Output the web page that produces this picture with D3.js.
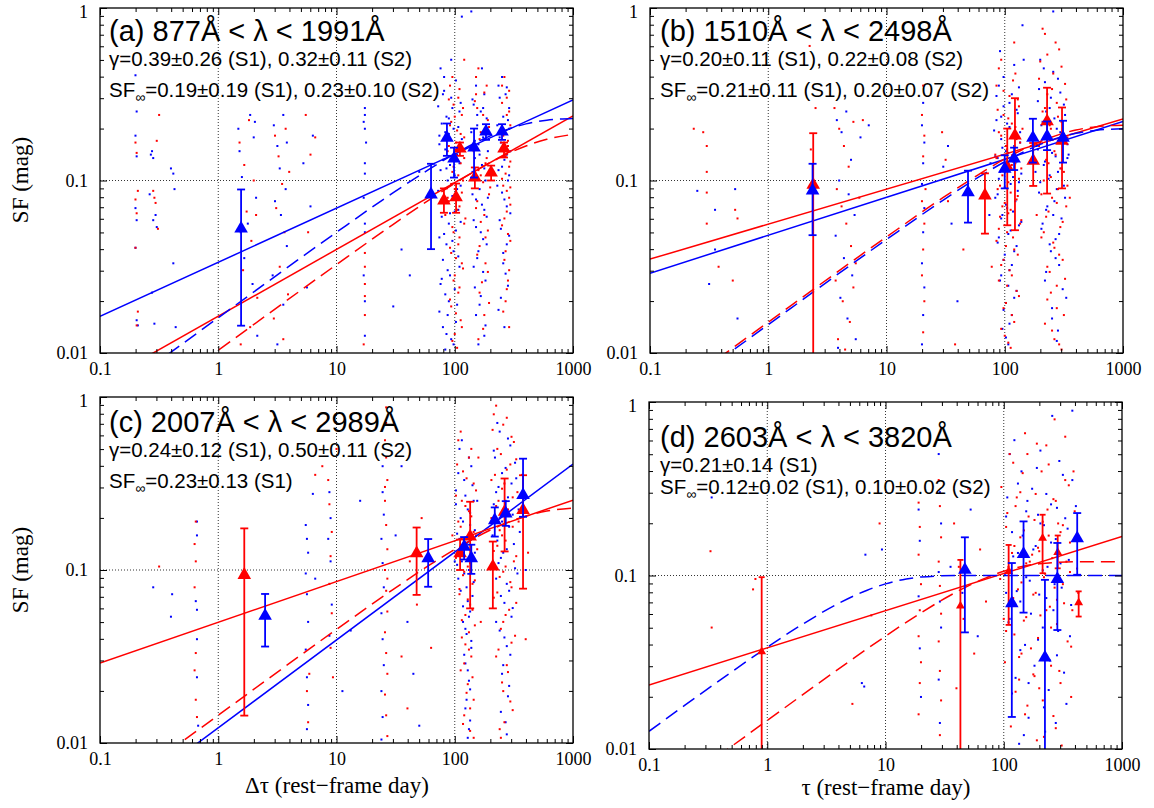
<!DOCTYPE html>
<html lang="en">
<head>
<meta charset="utf-8">
<title>Structure function panels</title>
<script src="https://d3js.org/d3.v7.min.js"></script>
<style>
  * { margin: 0; padding: 0; }
  body { background: #fff; }
  .tick-label { font-family: "Liberation Serif", serif; font-size: 18px; fill: #000; }
  .axtitle { font-family: "Liberation Serif", serif; font-size: 23px; fill: #000; }
  .title { font-family: "Liberation Sans", sans-serif; font-size: 29px; fill: #000; }
  .sub { font-family: "Liberation Sans", sans-serif; font-size: 20.5px; fill: #000; }
</style>
</head>
<body>
<svg id="chart" width="1154" height="808"></svg>
<script>
// ---- axes ----
const xTicks = [0.1, 1, 10, 100, 1000];
const xTickLabels = ["0.1", "1", "10", "100", "1000"];
const yTicks = [0.01, 0.1, 1];
const yTickLabels = ["0.01", "0.1", "1"];
const gridX = [1, 10, 100];
const gridY = [0.1];

// ---- panel texts ----
const panelTags = ["(a)", "(b)", "(c)", "(d)"];
const waveRanges = ["877Å < λ < 1991Å", "1510Å < λ < 2498Å", "2007Å < λ < 2989Å", "2603Å < λ < 3820Å"];
const gammaTexts = ["γ=0.39±0.26 (S1), 0.32±0.11 (S2)", "γ=0.20±0.11 (S1), 0.22±0.08 (S2)",
                    "γ=0.24±0.12 (S1), 0.50±0.11 (S2)", "γ=0.21±0.14 (S1)"];
const sfInfTexts = ["=0.19±0.19 (S1), 0.23±0.10 (S2)", "=0.21±0.11 (S1), 0.20±0.07 (S2)",
                    "=0.23±0.13 (S1)", "=0.12±0.02 (S1), 0.10±0.02 (S2)"];

// ---- binned SF points: [tau, SF, low, high] ----
const aRedTri = [[81,0.0766,0.065,0.09],[102.6,0.0798,0.065,0.096],[110.6,0.153,0.139,0.166],[148,0.104,0.09,0.119],[203,0.111,0.1,0.122],[261,0.153,0.136,0.166]];
const aBlueTri = [[1.56,0.0526,0.0144,0.0887],[63,0.083,0.04,0.125],[85.9,0.177,0.139,0.214],[98.6,0.134,0.104,0.155],[145.6,0.155,0.104,0.2],[183.7,0.192,0.172,0.212],[251,0.192,0.172,0.212]];
const bRedTri = [[2.4,0.0944,0.005,0.188],[68,0.0819,0.0492,0.110],[105,0.12,0.055,0.2],[122,0.182,0.0515,0.30],[174,0.13,0.093,0.165],[228,0.22,0.084,0.345],[305,0.17,0.09,0.265]];
const bBlueTri = [[2.37,0.0875,0.0482,0.125],[48.9,0.0853,0.057,0.114],[100,0.117,0.09,0.14],[120,0.134,0.115,0.155],[173,0.177,0.127,0.228],[228,0.18,0.15,0.22],[311,0.177,0.127,0.222]];
const cRedTri = [[1.66,0.0936,0.0144,0.174],[47.6,0.125,0.0718,0.176],[111,0.125,0.1,0.15],[135,0.156,0.06,0.248],[210,0.1045,0.06,0.146],[264,0.217,0.128,0.338],[378,0.222,0.078,0.353]];
const cBlueTri = [[2.49,0.0543,0.0361,0.0727],[59.6,0.117,0.08,0.151],[120,0.136,0.115,0.155],[138,0.117,0.095,0.14],[218,0.194,0.156,0.23],[270,0.212,0.18,0.25],[378,0.271,0.203,0.44]];
const dRedTri = [[0.897,0.0364,0.005,0.0978],[43,0.0668,0.005,0.123],[110,0.1055,0.0519,0.150],[213,0.164,0.103,0.224],[286,0.136,0.11,0.17],[430,0.0698,0.058,0.081]];
const dBlueTri = [[46.9,0.1078,0.047,0.166],[117,0.0692,0.0153,0.118],[147,0.1328,0.0611,0.205],[223,0.0336,0.005,0.0944],[284,0.0953,0.0485,0.154],[418,0.164,0.101,0.229]];

// ---- fitted curves: [tau, SF] ----
const aRedSolid = [[0.1,0.0067],[1000,0.237]];
const aBlueSolid = [[0.1,0.0163],[1000,0.293]];
const aRedDash = [[0.1,0.00328],[1,0.01036],[10,0.03253],[30,0.05553],[60,0.07682],[100,0.0964],[150,0.114],[200,0.1272],[300,0.146],[400,0.1585],[600,0.1733],[1000,0.1851]];
const aBlueDash = [[0.1,0.00507],[1,0.016],[10,0.0501],[30,0.0847],[60,0.1156],[100,0.1426],[150,0.1654],[200,0.1813],[300,0.2014],[400,0.2129],[600,0.2237],[1000,0.2291]];
const bRedSolid = [[0.1,0.035],[1000,0.227]];
const bBlueSolid = [[0.1,0.029],[1000,0.22]];
const bRedDash = [[0.1,0.00477],[1,0.0151],[10,0.0471],[30,0.0795],[60,0.1083],[100,0.1333],[150,0.1541],[200,0.1684],[300,0.1863],[400,0.1962],[600,0.2052],[1000,0.2094]];
const bBlueDash = [[0.1,0.00461],[1,0.0146],[10,0.0455],[30,0.0768],[60,0.1045],[100,0.1284],[150,0.1483],[200,0.1619],[300,0.1786],[400,0.1877],[600,0.1958],[1000,0.1995]];
const cRedSolid = [[0.1,0.029],[1000,0.2535]];
const cBlueSolid = [[0.1,0.0038],[1000,0.409]];
const cRedDash = [[0.1,0.00458],[1,0.01447],[10,0.04536],[30,0.07705],[60,0.1059],[100,0.1316],[150,0.154],[200,0.1702],[300,0.1919],[400,0.2051],[600,0.2191],[1000,0.2278]];
const dRedSolid = [[0.1,0.0234],[1000,0.168]];
const dRedDash = [[0.1,0.00464],[1,0.01461],[5,0.03218],[10,0.0447],[20,0.061],[40,0.0805],[70,0.0966],[100,0.1057],[150,0.1134],[200,0.1169],[400,0.1199],[1000,0.12]];
const dBlueDash = [[0.1,0.01265],[0.2,0.01782],[0.5,0.02783],[1,0.0386],[2,0.0525],[4,0.069],[7,0.0823],[10,0.0895],[15,0.0955],[20,0.098],[40,0.0999],[100,0.1],[1000,0.1]];

// ---- individual pairs, as "log10(tau) log10(SF)" ----
const aBlueDots = `-0.70 -0.39,-0.69 -0.60,-0.70 -0.74,-0.69 -0.86,-0.70 -1.16,-0.69 -1.23,-0.70 -1.39,-0.69 -1.81,-0.68 -1.84,
-0.56 -0.83,-0.57 -0.85,-0.55 -0.87,-0.58 -1.08,-0.53 -1.20,-0.55 -1.23,-0.52 -1.27,-0.56 -1.65,-0.54 -1.83,
-0.40 -0.93,-0.38 -0.96,-0.37 -1.05,-0.38 -1.48,-0.36 -1.85,
0.17 -0.70,0.18 -0.83,0.20 -0.98,0.27 -0.62,0.30 -0.75,0.32 -1.10,0.25 -1.25,0.22 -1.45,0.29 -1.60,0.33 -1.90,0.19 -1.30,0.31 -0.66,
0.47 -0.68,0.50 -0.80,0.52 -0.93,0.55 -0.62,0.57 -1.05,0.53 -1.20,0.58 -1.38,0.46 -1.55,0.55 -1.72,0.50 -1.95,0.58 -0.78,0.48 -1.12,
0.72 -0.90,0.78 -1.15,0.75 -1.62,0.80 -0.74,
1.24 -0.58,1.24 -0.62,1.23 -0.66,1.24 -0.70,1.24 -0.90,1.24 -0.96,1.23 -1.10,1.24 -1.25,1.24 -1.30,1.23 -1.55,1.24 -1.70,1.24 -1.90,1.25 -0.78,
1.55 -1.40,1.62 -1.55,1.48 -1.73,1.70 -0.95,
1.88 -0.35,2.01 -0.42,1.91 -0.48,1.97 -0.52,1.86 -0.57,2.04 -0.60,1.93 -0.63,1.89 -0.67,1.99 -0.70,1.95 -0.73,2.06 -0.76,1.87 -0.79,1.92 -0.82,2.02 -0.85,
1.90 -0.88,1.96 -0.91,1.88 -0.94,2.00 -0.97,1.94 -1.00,2.05 -1.03,1.86 -1.06,1.98 -1.09,1.91 -1.13,2.03 -1.17,1.89 -1.21,1.95 -1.25,2.01 -1.29,1.87 -1.33,
1.93 -1.37,1.99 -1.41,1.90 -1.46,2.04 -1.50,1.96 -1.55,1.88 -1.60,1.92 -1.66,2.02 -1.72,1.94 -1.78,1.90 -1.85,1.97 -1.92,1.92 -1.98,2.06 -0.05,1.97 -0.30,
2.04 -0.90,1.92 -0.72,1.98 -0.58,2.00 -1.18,
1.90 -0.50,1.95 -0.64,2.03 -0.69,1.87 -0.74,1.99 -0.86,1.93 -0.93,2.02 -1.05,1.89 -1.11,1.96 -1.19,2.05 -1.24,1.91 -1.31,1.98 -1.35,2.03 -1.44,1.94 -1.52,
1.89 -1.57,2.00 -1.63,1.95 -1.70,1.87 -1.76,2.01 -1.82,1.93 -1.89,1.99 -1.95,1.91 -0.40,2.05 -0.55,
2.18 -0.45,2.25 -0.50,2.16 -0.56,2.22 -0.60,2.27 -0.64,2.19 -0.68,2.14 -0.72,2.24 -0.75,2.20 -0.79,2.28 -0.83,2.17 -0.87,2.23 -0.91,2.15 -0.95,2.26 -1.00,
2.21 -1.05,2.18 -1.11,2.25 -1.17,2.16 -1.23,2.22 -1.30,2.27 -1.37,2.19 -1.45,2.24 -1.53,2.17 -1.62,2.21 -1.72,2.26 -1.84,2.20 -1.95,2.14 -0.02,2.23 -0.35,
2.28 -1.10,2.16 -0.80,
2.15 -0.53,2.24 -0.58,2.19 -0.62,2.27 -0.70,2.17 -0.77,2.21 -0.85,2.25 -0.93,2.19 -0.98,2.15 -1.08,2.23 -1.14,2.27 -1.21,2.18 -1.27,2.24 -1.34,2.20 -1.41,
2.16 -1.50,2.26 -1.58,2.22 -1.67,2.18 -1.78,2.25 -1.90,
2.40 -0.40,2.44 -0.46,2.38 -0.52,2.46 -0.58,2.41 -0.63,2.36 -0.68,2.43 -0.73,2.39 -0.78,2.47 -0.83,2.42 -0.88,2.37 -0.94,2.45 -1.00,2.40 -1.07,2.44 -1.15,
2.38 -1.23,2.46 -1.32,2.41 -1.42,2.43 -1.54,2.39 -1.68,2.46 -0.70,2.42 -1.85,
2.37 -0.45,2.43 -0.50,2.45 -0.65,2.38 -0.75,2.44 -0.85,2.40 -0.92,2.46 -0.97,2.36 -1.03,2.42 -1.11,2.47 -1.19,2.39 -1.28,2.44 -1.37,2.41 -1.48,2.45 -1.61,
2.37 -1.75`;
const aRedDots = `-0.70 -0.78,-0.69 -0.84,-0.68 -1.06,-0.70 -1.11,-0.69 -1.19,-0.70 -1.39,-0.68 -1.76,-0.69 -1.84,
-0.50 -0.62,-0.52 -0.77,-0.55 -1.06,-0.54 -1.10,-0.53 -1.13,-0.51 -1.28,
0.18 -0.78,0.22 -0.91,0.26 -0.65,0.30 -1.00,0.24 -1.18,0.28 -1.35,0.21 -1.52,0.33 -1.68,0.27 -1.85,0.32 -1.20,0.19 -1.95,
0.48 -0.74,0.51 -0.86,0.54 -1.02,0.57 -0.70,0.49 -1.16,0.56 -1.30,0.52 -1.50,0.59 -1.66,0.47 -1.80,0.55 -1.92,0.60 -0.95,
0.74 -0.62,0.78 -0.85,0.82 -0.75,0.76 -1.30,
1.24 -1.42,1.24 -1.50,1.24 -1.60,1.24 -1.67,1.24 -1.78,1.23 -1.95,
1.98 -0.40,2.04 -0.47,1.95 -0.53,2.07 -0.58,2.00 -0.63,1.96 -0.68,2.05 -0.73,2.01 -0.78,1.94 -0.83,2.08 -0.87,1.99 -0.92,2.03 -0.97,1.97 -1.02,2.06 -1.07,
1.95 -1.12,2.02 -1.17,2.09 -1.22,1.98 -1.27,2.04 -1.33,1.96 -1.39,2.01 -1.45,2.07 -1.51,1.99 -1.58,2.03 -1.65,1.97 -1.73,2.05 -1.81,2.00 -1.89,2.02 -1.97,
2.08 -0.30,1.92 -1.20,
1.96 -0.45,2.03 -0.52,1.99 -0.56,2.06 -0.62,1.97 -0.66,2.02 -0.71,2.08 -0.75,1.95 -0.80,2.01 -0.85,2.05 -0.90,1.98 -0.95,2.07 -1.00,2.00 -1.05,1.94 -1.10,
2.04 -1.15,2.08 -1.25,1.99 -1.30,2.03 -1.37,1.97 -1.42,2.06 -1.48,2.00 -1.55,2.04 -1.62,1.96 -1.69,2.01 -1.77,2.06 -1.85,1.98 -1.93,
2.20 -0.35,2.27 -0.45,2.17 -0.54,2.24 -0.62,2.29 -0.69,2.21 -0.76,2.16 -0.83,2.26 -0.90,2.22 -0.97,2.30 -1.04,2.19 -1.12,2.25 -1.20,2.28 -1.29,2.21 -1.38,
2.26 -1.48,2.23 -1.59,2.29 -1.71,2.24 -1.86,2.18 -0.50,
2.18 -0.40,2.25 -0.49,2.19 -0.58,2.28 -0.65,2.22 -0.72,2.17 -0.80,2.27 -0.87,2.20 -0.94,2.24 -1.01,2.29 -1.08,2.18 -1.16,2.22 -1.24,2.26 -1.33,2.19 -1.43,
2.28 -1.53,2.21 -1.65,2.25 -1.78,2.20 -1.92,
2.42 -0.40,2.46 -0.48,2.40 -0.55,2.44 -0.62,2.47 -0.68,2.41 -0.74,2.45 -0.80,2.43 -0.86,2.46 -0.92,2.40 -0.99,2.44 -1.06,2.47 -1.14,2.42 -1.22,2.45 -1.31,
2.43 -1.41,2.46 -1.52,2.44 -1.63,2.41 -1.76,2.47 -1.04,
2.40 -0.45,2.44 -0.52,2.46 -0.60,2.41 -0.70,2.45 -0.77,2.42 -0.83,2.47 -0.89,2.43 -0.96,2.41 -1.03,2.46 -1.10,2.44 -1.18,2.40 -1.26,2.47 -1.35,2.42 -1.46,
2.45 -1.58,2.43 -1.70,2.46 -1.85`;
const bBlueDots = `-0.60 -1.06,-0.45 -1.17,-0.50 -1.60,-0.28 -1.05,-0.26 -1.80,-0.45 -1.40,
0.58 -0.65,0.62 -0.72,0.66 -0.60,0.70 -0.88,0.60 -1.00,0.68 -1.08,0.73 -1.20,0.57 -1.32,0.64 -1.45,0.71 -1.55,0.61 -1.68,0.67 -1.80,0.74 -1.92,0.59 -1.97,
0.78 -0.75,0.85 -0.68,
1.31 -0.55,1.30 -0.68,1.32 -0.78,1.31 -0.90,1.30 -1.02,1.32 -1.16,1.31 -1.30,1.30 -1.48,1.32 -1.62,1.31 -1.78,1.30 -1.95,
1.48 -0.92,1.55 -1.25,1.60 -1.70,1.52 -0.80,
1.96 -0.25,2.08 -0.33,1.99 -0.40,2.12 -0.46,1.93 -0.51,2.04 -0.55,2.10 -0.59,1.97 -0.63,2.02 -0.67,1.91 -0.71,2.07 -0.74,2.13 -0.78,1.98 -0.81,2.03 -0.84,
1.94 -0.87,2.09 -0.90,2.00 -0.93,2.14 -0.96,1.95 -0.99,2.05 -1.02,2.11 -1.06,1.92 -1.10,2.01 -1.14,2.07 -1.18,1.97 -1.22,2.12 -1.26,2.03 -1.31,1.94 -1.36,
2.08 -1.41,1.99 -1.46,2.04 -1.52,1.96 -1.58,2.10 -1.64,2.01 -1.71,2.06 -1.78,1.98 -1.86,2.03 -1.95,2.15 -0.10,2.16 -0.30,1.88 -0.90,1.87 -1.20,
1.95 -0.45,2.06 -0.50,1.99 -0.57,2.11 -0.61,1.93 -0.65,2.04 -0.69,2.13 -0.72,1.97 -0.76,2.08 -0.80,2.01 -0.83,1.92 -0.86,2.10 -0.89,2.03 -0.92,1.96 -0.95,
2.07 -0.98,2.12 -1.01,2.00 -1.04,1.94 -1.08,2.09 -1.12,2.02 -1.16,1.98 -1.20,2.14 -1.24,2.05 -1.29,1.95 -1.33,2.10 -1.38,2.00 -1.43,2.06 -1.49,1.97 -1.55,
2.03 -1.61,2.08 -1.68,1.99 -1.75,2.04 -1.83,2.01 -1.91,
2.30 -0.30,2.41 -0.37,2.34 -0.43,2.47 -0.49,2.28 -0.54,2.38 -0.58,2.51 -0.62,2.32 -0.66,2.44 -0.70,2.36 -0.73,2.49 -0.77,2.27 -0.80,2.40 -0.84,2.53 -0.87,
2.33 -0.91,2.45 -0.95,2.37 -0.99,2.50 -1.03,2.29 -1.07,2.42 -1.12,2.35 -1.17,2.48 -1.22,2.31 -1.28,2.43 -1.34,2.39 -1.41,2.46 -1.49,2.34 -1.58,2.52 -1.68,
2.40 -1.80,2.44 -1.93,2.41 -0.02,2.54 -0.85,2.26 -0.95,
2.33 -0.35,2.45 -0.41,2.29 -0.47,2.39 -0.52,2.50 -0.56,2.35 -0.60,2.42 -0.64,2.31 -0.68,2.47 -0.72,2.37 -0.75,2.53 -0.79,2.28 -0.82,2.43 -0.86,2.34 -0.89,
2.48 -0.93,2.38 -0.97,2.30 -1.01,2.44 -1.05,2.51 -1.10,2.36 -1.15,2.41 -1.20,2.32 -1.25,2.46 -1.31,2.38 -1.37,2.43 -1.45,2.35 -1.53,2.49 -1.63,2.40 -1.74,
2.45 -1.87`;
const bRedDots = `-0.63 -0.70,-0.55 -0.72,-0.52 -0.80,-0.52 -0.95,-0.52 -1.07,-0.52 -1.25,-0.42 -1.50,-0.28 -1.17,-0.26 -1.22,-0.30 -1.58,0.35 -0.22,0.40 -0.58,0.36 -0.82,
0.56 -0.58,0.60 -0.70,0.64 -0.80,0.68 -0.92,0.72 -0.66,0.58 -1.05,0.62 -1.15,0.66 -1.25,0.70 -1.38,0.74 -1.48,0.57 -1.58,0.63 -1.70,0.69 -1.82,0.59 -1.92,
0.65 -1.98,0.77 -1.10,0.80 -0.65,0.72 -1.62,
1.31 -0.45,1.30 -0.62,1.32 -0.74,1.31 -0.86,1.30 -1.12,1.32 -1.25,1.31 -1.40,1.30 -1.55,1.32 -1.70,1.31 -1.88,1.33 -1.05,
1.47 -0.72,1.52 -1.12,1.58 -1.95,1.65 -1.40,1.50 -0.88,
1.97 -0.30,2.09 -0.38,1.93 -0.45,2.04 -0.51,2.12 -0.57,1.99 -0.62,2.06 -0.67,1.95 -0.72,2.10 -0.76,2.01 -0.80,1.92 -0.85,2.07 -0.89,2.14 -0.93,1.98 -0.97,
2.03 -1.01,1.94 -1.05,2.11 -1.09,2.00 -1.13,2.05 -1.17,1.96 -1.21,2.13 -1.25,2.02 -1.30,1.93 -1.35,2.08 -1.40,1.99 -1.46,2.04 -1.52,1.95 -1.58,2.10 -1.64,
2.01 -1.71,2.06 -1.78,1.97 -1.86,2.03 -1.94,2.15 -0.70,1.89 -1.50,2.08 -0.20,
1.95 -0.35,2.07 -0.42,1.99 -0.48,2.11 -0.53,1.94 -0.59,2.03 -0.64,2.09 -0.69,1.97 -0.74,2.13 -0.78,2.02 -0.82,1.93 -0.87,2.06 -0.91,2.00 -0.95,2.12 -0.99,
1.96 -1.03,2.05 -1.07,2.10 -1.11,1.98 -1.15,2.03 -1.19,2.14 -1.23,1.95 -1.28,2.07 -1.33,2.01 -1.38,2.11 -1.43,1.97 -1.49,2.06 -1.55,2.02 -1.61,2.12 -1.67,
1.99 -1.74,2.08 -1.82,2.00 -1.90,2.05 -1.97,
2.32 -0.12,2.43 -0.20,2.36 -0.27,2.48 -0.34,2.29 -0.41,2.40 -0.47,2.52 -0.53,2.34 -0.58,2.45 -0.63,2.38 -0.68,2.50 -0.73,2.30 -0.78,2.42 -0.83,2.35 -0.88,
2.47 -0.93,2.39 -0.98,2.53 -1.03,2.31 -1.08,2.44 -1.13,2.37 -1.18,2.49 -1.24,2.33 -1.30,2.41 -1.36,2.46 -1.43,2.36 -1.50,2.51 -1.57,2.39 -1.65,2.44 -1.74,
2.34 -1.83,2.42 -1.92,2.48 -1.98,2.55 -1.10,2.27 -1.20,
2.34 -0.15,2.46 -0.24,2.30 -0.31,2.41 -0.38,2.51 -0.44,2.36 -0.50,2.44 -0.55,2.32 -0.60,2.48 -0.66,2.39 -0.70,2.53 -0.75,2.29 -0.80,2.43 -0.85,2.37 -0.90,
2.50 -0.95,2.33 -1.00,2.45 -1.05,2.40 -1.10,2.52 -1.15,2.35 -1.21,2.47 -1.27,2.31 -1.33,2.42 -1.39,2.49 -1.46,2.38 -1.53,2.44 -1.61,2.36 -1.69,2.50 -1.78,
2.40 -1.87,2.46 -1.95`;
const cBlueDots = `-0.55 -1.10,-0.39 -1.14,-0.40 -1.27,-0.18 -0.72,-0.18 -0.80,-0.19 -1.18,-0.18 -1.23,-0.18 -1.40,-0.17 -1.90,-0.18 -1.62,
0.74 -0.74,0.75 -0.82,0.76 -0.90,0.74 -1.02,0.75 -1.14,0.76 -1.30,0.74 -1.46,0.75 -1.62,0.76 -1.78,0.75 -1.92,0.80 -0.56,0.82 -1.05,
0.94 -0.55,0.95 -0.70,0.93 -0.82,0.96 -1.20,0.94 -1.38,0.95 -0.95,
1.05 -1.70,1.12 -1.35,1.20 -0.60,
1.39 -0.40,1.39 -0.55,1.40 -0.68,1.38 -0.82,1.39 -0.96,1.40 -1.10,1.38 -1.25,1.39 -1.40,1.40 -1.55,1.38 -1.70,1.39 -1.85,1.38 -1.98,
1.55 -0.40,1.60 -1.30,1.65 -1.60,1.70 -1.90,1.50 -0.80,
2.06 -0.25,2.12 -0.35,2.03 -0.44,2.15 -0.51,2.09 -0.57,2.01 -0.62,2.13 -0.67,2.07 -0.72,2.17 -0.77,2.04 -0.82,2.10 -0.87,2.14 -0.92,2.02 -0.97,2.08 -1.02,
2.16 -1.07,2.05 -1.12,2.11 -1.18,2.13 -1.24,2.07 -1.30,2.10 -1.37,2.14 -1.45,2.09 -1.54,2.12 -1.64,2.10 -1.75,2.13 -1.87,2.11 -1.97,2.19 -0.60,2.00 -0.95,
2.04 -0.30,2.14 -0.40,2.08 -0.48,2.01 -0.54,2.16 -0.60,2.11 -0.65,2.05 -0.70,2.13 -0.74,2.02 -0.79,2.09 -0.84,2.17 -0.90,2.06 -0.95,2.12 -1.00,2.03 -1.05,
2.10 -1.10,2.15 -1.15,2.07 -1.21,2.12 -1.27,2.09 -1.34,2.14 -1.41,2.08 -1.49,2.11 -1.58,2.13 -1.69,2.09 -1.80,2.12 -1.92,
2.36 -0.15,2.45 -0.24,2.33 -0.31,2.51 -0.38,2.40 -0.44,2.48 -0.50,2.35 -0.55,2.43 -0.60,2.54 -0.65,2.38 -0.70,2.46 -0.75,2.32 -0.80,2.50 -0.85,2.41 -0.90,
2.37 -0.96,2.53 -1.02,2.44 -1.08,2.39 -1.15,2.49 -1.22,2.35 -1.30,2.42 -1.39,2.47 -1.49,2.40 -1.60,2.45 -1.73,2.43 -1.88,2.58 -0.55,2.60 -1.00,
2.38 -0.20,2.47 -0.28,2.34 -0.35,2.43 -0.41,2.52 -0.47,2.37 -0.52,2.45 -0.58,2.33 -0.62,2.49 -0.68,2.40 -0.72,2.55 -0.78,2.36 -0.83,2.44 -0.88,2.39 -0.93,
2.51 -0.99,2.35 -1.05,2.46 -1.12,2.42 -1.19,2.48 -1.27,2.38 -1.35,2.44 -1.44,2.41 -1.55,2.46 -1.67,2.39 -1.82,2.44 -1.95`;
const cRedDots = `-0.50 -0.98,-0.19 -0.72,-0.20 -0.85,-0.19 -0.95,-0.20 -1.10,-0.19 -1.48,-0.20 -1.58,-0.19 -1.75,-0.18 -1.85,
0.75 -1.70,0.76 -1.88,0.77 -1.60,
0.93 -0.48,0.94 -0.62,0.96 -0.78,0.95 -0.92,0.94 -1.08,0.96 -1.25,0.95 -1.45,0.97 -1.62,1.00 -0.30,0.82 -0.45,0.88 -0.40,
1.42 -0.06,1.42 -0.15,1.41 -0.25,1.42 -0.35,1.43 -0.48,1.41 -0.60,1.42 -0.74,1.43 -0.88,1.41 -1.00,1.42 -1.12,1.43 -1.24,1.41 -1.36,1.42 -1.48,1.43 -1.60,
1.41 -1.72,1.42 -1.84,1.43 -1.96,1.41 -0.52,1.43 -1.05,
1.55 -1.50,1.62 -0.95,1.68 -1.20,1.72 -0.70,1.80 -1.45,1.60 -1.80,
2.05 -0.20,2.14 -0.30,2.02 -0.39,2.10 -0.47,2.18 -0.54,2.06 -0.60,2.12 -0.66,2.03 -0.72,2.16 -0.78,2.08 -0.83,2.19 -0.88,2.01 -0.93,2.11 -0.98,2.07 -1.03,
2.15 -1.08,2.04 -1.14,2.13 -1.20,2.09 -1.26,2.17 -1.32,2.06 -1.39,2.12 -1.46,2.08 -1.54,2.15 -1.62,2.10 -1.71,2.13 -1.80,2.07 -1.89,2.16 -1.97,2.20 -0.35,
1.98 -0.80,2.22 -1.30,
2.03 -0.25,2.12 -0.35,2.07 -0.43,2.16 -0.50,2.01 -0.57,2.09 -0.63,2.14 -0.69,2.05 -0.75,2.18 -0.80,2.10 -0.85,2.02 -0.90,2.13 -0.96,2.08 -1.01,2.17 -1.06,
2.04 -1.11,2.11 -1.17,2.15 -1.23,2.06 -1.29,2.12 -1.36,2.09 -1.43,2.14 -1.50,2.05 -1.58,2.11 -1.66,2.16 -1.75,2.08 -1.84,2.13 -1.93,
2.35 -0.05,2.44 -0.12,2.32 -0.19,2.50 -0.26,2.39 -0.33,2.47 -0.39,2.34 -0.45,2.42 -0.50,2.53 -0.55,2.37 -0.60,2.45 -0.65,2.31 -0.70,2.49 -0.75,2.40 -0.80,
2.36 -0.86,2.52 -0.92,2.43 -0.98,2.38 -1.04,2.48 -1.10,2.33 -1.16,2.46 -1.23,2.41 -1.30,2.51 -1.38,2.37 -1.46,2.44 -1.55,2.40 -1.65,2.47 -1.76,2.42 -1.88,
2.39 -1.97,2.57 -0.45,2.62 -0.90,2.60 -1.40,
2.33 -0.10,2.41 -0.16,2.48 -0.23,2.36 -0.30,2.52 -0.36,2.44 -0.42,2.31 -0.48,2.40 -0.53,2.49 -0.58,2.35 -0.63,2.46 -0.68,2.54 -0.72,2.38 -0.77,2.43 -0.83,
2.33 -0.89,2.50 -0.95,2.41 -1.01,2.47 -1.07,2.36 -1.13,2.52 -1.19,2.43 -1.26,2.39 -1.34,2.48 -1.42,2.35 -1.50,2.45 -1.59,2.41 -1.70,2.49 -1.81,2.38 -1.92`;
const dBlueDots = `-0.47 -0.55,0.80 -1.62,0.82 -1.64,0.83 -0.88,0.97 -0.85,
1.28 -0.62,1.29 -0.80,1.28 -1.12,1.29 -1.42,1.30 -1.70,
1.45 -0.30,1.46 -0.52,1.47 -0.70,1.45 -0.98,1.46 -1.15,1.47 -1.30,1.45 -1.60,1.46 -1.85,
1.55 -0.95,1.65 -1.10,1.72 -0.62,1.78 -1.35,
2.09 -0.22,2.31 -0.28,2.47 -0.34,2.15 -0.40,2.58 -0.45,2.24 -0.50,2.03 -0.55,2.40 -0.59,2.19 -0.63,2.52 -0.67,2.34 -0.71,2.07 -0.75,2.44 -0.79,2.27 -0.83,
2.12 -0.87,2.55 -0.91,2.37 -0.95,2.01 -0.99,2.22 -1.03,2.49 -1.07,2.30 -1.11,2.14 -1.15,2.42 -1.20,2.05 -1.25,2.33 -1.30,2.56 -1.35,2.18 -1.40,2.45 -1.46,
2.26 -1.52,2.10 -1.59,2.38 -1.66,2.53 -1.74,2.21 -1.82,2.35 -1.90,2.13 -1.97,2.41 -0.08,2.58 -0.05,2.61 -0.60,2.02 -1.10,2.29 -0.65,
2.05 -0.30,2.28 -0.38,2.50 -0.42,2.12 -0.47,2.36 -0.53,2.20 -0.57,2.45 -0.61,2.02 -0.66,2.31 -0.70,2.54 -0.73,2.16 -0.77,2.40 -0.81,2.25 -0.85,2.08 -0.89,
2.48 -0.93,2.33 -0.97,2.19 -1.01,2.43 -1.05,2.11 -1.09,2.36 -1.13,2.57 -1.17,2.23 -1.22,2.04 -1.27,2.46 -1.32,2.29 -1.37,2.14 -1.43,2.39 -1.49,2.51 -1.56,
2.21 -1.62,2.07 -1.68,2.34 -1.76,2.44 -1.85,2.17 -1.92`;
const dRedDots = `-0.48 -0.86,-0.47 -1.30,-0.12 -1.08,-0.10 -1.02,0.72 -1.74,0.88 -1.23,0.95 -0.70,
1.28 -0.58,1.29 -0.72,1.28 -0.88,1.30 -1.05,1.29 -1.20,1.28 -1.35,1.30 -1.50,1.29 -1.62,1.28 -1.80,
1.45 -0.45,1.46 -0.60,1.47 -0.78,1.45 -0.92,1.46 -1.06,1.47 -1.22,1.45 -1.38,1.46 -1.55,1.47 -1.72,1.46 -1.92,
1.58 -0.70,1.62 -0.95,1.66 -1.25,1.70 -0.50,1.75 -1.45,1.80 -0.85,1.85 -1.15,1.60 -1.65,
2.05 -0.30,2.38 -0.36,2.16 -0.41,2.52 -0.45,1.98 -0.49,2.27 -0.53,2.44 -0.57,2.10 -0.60,2.60 -0.63,2.21 -0.66,2.33 -0.69,2.02 -0.72,2.48 -0.75,2.14 -0.78,
2.56 -0.81,2.29 -0.84,2.07 -0.87,2.41 -0.90,2.19 -0.93,2.62 -0.96,2.35 -0.99,1.97 -1.02,2.50 -1.05,2.12 -1.08,2.25 -1.11,2.45 -1.14,2.04 -1.17,2.58 -1.20,
2.31 -1.23,2.17 -1.26,2.40 -1.30,2.09 -1.34,2.54 -1.38,2.23 -1.42,2.36 -1.46,2.01 -1.50,2.47 -1.55,2.13 -1.60,2.30 -1.65,2.57 -1.70,2.20 -1.75,2.42 -1.81,
2.06 -1.87,2.34 -1.93,2.49 -1.98,2.18 -0.18,2.43 -0.10,2.28 -0.24,2.59 -0.40,2.11 -0.55,2.37 -0.62,2.24 -0.88,2.53 -0.92,2.00 -1.25,2.39 -1.18,2.15 -1.45,
2.63 -1.10,2.26 -1.58,2.46 -0.70,
2.08 -0.35,2.32 -0.40,2.55 -0.48,2.14 -0.52,2.42 -0.56,2.03 -0.64,2.26 -0.68,2.50 -0.71,2.17 -0.74,2.38 -0.77,2.61 -0.80,2.09 -0.83,2.30 -0.86,2.46 -0.89,
2.22 -0.92,2.04 -0.95,2.56 -0.98,2.34 -1.01,2.15 -1.04,2.43 -1.07,2.27 -1.10,2.08 -1.13,2.51 -1.16,2.36 -1.20,2.19 -1.24,2.45 -1.28,2.02 -1.32,2.29 -1.36,
2.57 -1.41,2.13 -1.47,2.40 -1.52,2.25 -1.57,2.48 -1.62,2.10 -1.67,2.33 -1.72,2.18 -1.80,2.44 -1.88,2.28 -1.95,2.52 -0.20,2.36 -0.25,2.20 -0.30`;

// ---- layout ----
const RED = "#ff0000", BLUE = "#0000ff";
const layout = [
  { x0: 100, x1: 573, y0: 8,   y1: 353, tx: 109, t1: 41,  t2: 66,  t3: 97 },
  { x0: 650, x1: 1123, y0: 8,  y1: 353, tx: 660, t1: 41,  t2: 66,  t3: 97 },
  { x0: 100, x1: 573, y0: 397, y1: 743, tx: 109, t1: 432, t2: 457, t3: 488 },
  { x0: 649, x1: 1122, y0: 402, y1: 749, tx: 660, t1: 447, t2: 472, t3: 494 }
];
const xTitles = [
  { text: "Δτ (rest−frame day)", x: 337, y: 793 },
  { text: "τ (rest−frame day)", x: 886, y: 795 }
];

function parseDots(s) {
  return s.trim().split(/\s*,\s*/).map(p => p.trim().split(/\s+/).map(v => Math.pow(10, +v)));
}

const panels = [
  { redDots: aRedDots, blueDots: aBlueDots, redTri: aRedTri, blueTri: aBlueTri, redSize: 80,
    lines: [[aRedSolid, RED, false], [aBlueSolid, BLUE, false], [aRedDash, RED, true], [aBlueDash, BLUE, true]] },
  { redDots: bRedDots, blueDots: bBlueDots, redTri: bRedTri, blueTri: bBlueTri, redSize: 80,
    lines: [[bRedSolid, RED, false], [bBlueSolid, BLUE, false], [bBlueDash, BLUE, true], [bRedDash, RED, true]] },
  { redDots: cRedDots, blueDots: cBlueDots, redTri: cRedTri, blueTri: cBlueTri, redSize: 80,
    lines: [[cBlueSolid, BLUE, false], [cRedSolid, RED, false], [cRedDash, RED, true]] },
  { redDots: dRedDots, blueDots: dBlueDots, redTri: dRedTri, blueTri: dBlueTri, redSize: 34,
    lines: [[dRedSolid, RED, false], [dRedDash, RED, true], [dBlueDash, BLUE, true]] }
];

const xMinor = [], yMinor = [];
[0.1, 1, 10, 100].forEach(d => { for (let k = 2; k <= 9; k++) xMinor.push(d * k); });
[0.01, 0.1].forEach(d => { for (let k = 2; k <= 9; k++) yMinor.push(d * k); });

const svg = d3.select("#chart");

function addAxis(g, axis, transform) {
  const a = g.append("g").attr("transform", transform).call(axis);
  a.attr("font-family", null).attr("font-size", null);
  a.select(".domain").remove();
  a.selectAll("line").attr("stroke", "#000").attr("stroke-width", 1);
  a.selectAll("text").attr("class", "tick-label");
  return a;
}

panels.forEach((p, i) => {
  const L = layout[i];
  const x = d3.scaleLog().domain([0.1, 1000]).range([L.x0, L.x1]);
  const y = d3.scaleLog().domain([0.01, 1]).range([L.y1, L.y0]);
  const g = svg.append("g");

  g.append("clipPath").attr("id", "clip" + i)
    .append("rect").attr("x", L.x0).attr("y", L.y0)
    .attr("width", L.x1 - L.x0).attr("height", L.y1 - L.y0);
  const plot = g.append("g").attr("clip-path", `url(#clip${i})`);

  // dotted grid
  plot.selectAll(".gx").data(gridX).enter().append("line")
    .attr("x1", d => x(d)).attr("x2", d => x(d)).attr("y1", L.y0).attr("y2", L.y1)
    .attr("stroke", "#000").attr("stroke-width", 0.8).attr("stroke-dasharray", "1,2");
  plot.selectAll(".gy").data(gridY).enter().append("line")
    .attr("x1", L.x0).attr("x2", L.x1).attr("y1", d => y(d)).attr("y2", d => y(d))
    .attr("stroke", "#000").attr("stroke-width", 0.8).attr("stroke-dasharray", "1,2");

  // individual pairs
  [[p.blueDots, BLUE], [p.redDots, RED]].forEach(([s, col]) => {
    plot.append("g").selectAll("rect").data(parseDots(s)).enter().append("rect")
      .attr("x", d => x(d[0]) - 1).attr("y", d => y(d[1]) - 1)
      .attr("width", 2).attr("height", 2).attr("fill", col);
  });

  // fitted curves
  const line = d3.line().x(d => x(d[0])).y(d => y(d[1])).curve(d3.curveMonotoneX);
  p.lines.forEach(([pts, col, dashed]) => {
    plot.append("path").attr("d", line(pts)).attr("fill", "none")
      .attr("stroke", col).attr("stroke-width", 1.5)
      .attr("stroke-dasharray", dashed ? "14,7" : null);
  });

  // binned points with error bars
  [[p.redTri, RED, p.redSize], [p.blueTri, BLUE, 80]].forEach(([tri, col, size]) => {
    const cap = size > 50 ? 4 : 3;
    const eg = plot.append("g").attr("stroke", col).attr("stroke-width", 1.8);
    tri.forEach(d => {
      const cx = x(d[0]);
      eg.append("line").attr("x1", cx).attr("x2", cx).attr("y1", y(d[2])).attr("y2", y(d[3]));
      eg.append("line").attr("x1", cx - cap).attr("x2", cx + cap).attr("y1", y(d[2])).attr("y2", y(d[2]));
      eg.append("line").attr("x1", cx - cap).attr("x2", cx + cap).attr("y1", y(d[3])).attr("y2", y(d[3]));
    });
    plot.append("g").selectAll("path").data(tri).enter().append("path")
      .attr("d", d3.symbol(d3.symbolTriangle, size))
      .attr("transform", d => `translate(${x(d[0])},${y(d[1])})`)
      .attr("fill", col);
  });

  // axes (ticks inward on all four sides)
  addAxis(g, d3.axisBottom(x).tickValues(xTicks).tickSize(-7).tickPadding(9)
    .tickFormat((d, k) => xTickLabels[k]), `translate(0,${L.y1})`);
  addAxis(g, d3.axisBottom(x).tickValues(xMinor).tickSize(-4).tickFormat(""), `translate(0,${L.y1})`);
  addAxis(g, d3.axisTop(x).tickValues(xTicks).tickSize(-7).tickFormat(""), `translate(0,${L.y0})`);
  addAxis(g, d3.axisTop(x).tickValues(xMinor).tickSize(-4).tickFormat(""), `translate(0,${L.y0})`);
  const yl = addAxis(g, d3.axisLeft(y).tickValues(yTicks).tickSize(-7).tickPadding(12)
    .tickFormat((d, k) => yTickLabels[k]), `translate(${L.x0},0)`);
  // keep the top label "1" inside the picture
  yl.selectAll("text").filter(d => d === 1).attr("dy", "0.5em");
  addAxis(g, d3.axisLeft(y).tickValues(yMinor).tickSize(-4).tickFormat(""), `translate(${L.x0},0)`);
  addAxis(g, d3.axisRight(y).tickValues(yTicks).tickSize(-7).tickFormat(""), `translate(${L.x1},0)`);
  addAxis(g, d3.axisRight(y).tickValues(yMinor).tickSize(-4).tickFormat(""), `translate(${L.x1},0)`);

  g.append("rect").attr("x", L.x0).attr("y", L.y0)
    .attr("width", L.x1 - L.x0).attr("height", L.y1 - L.y0)
    .attr("fill", "none").attr("stroke", "#000").attr("stroke-width", 1.3);

  // panel texts
  g.append("text").attr("class", "title").attr("x", L.tx).attr("y", L.t1)
    .text(panelTags[i] + " " + waveRanges[i]);
  g.append("text").attr("class", "sub").attr("x", L.tx).attr("y", L.t2).text(gammaTexts[i]);
  const sf = g.append("text").attr("class", "sub").attr("x", L.tx).attr("y", L.t3);
  sf.append("tspan").text("SF");
  sf.append("tspan").attr("font-size", 14).attr("dy", 5).text("∞");
  sf.append("tspan").attr("dy", -5).text(sfInfTexts[i]);
});

// axis titles
[180, 570].forEach(cy => {
  svg.append("text").attr("class", "axtitle").attr("text-anchor", "middle")
    .attr("transform", `translate(28,${cy}) rotate(-90)`).text("SF (mag)");
});
xTitles.forEach(t => {
  svg.append("text").attr("class", "axtitle").attr("text-anchor", "middle")
    .attr("x", t.x).attr("y", t.y).text(t.text);
});
</script>
</body>
</html>
